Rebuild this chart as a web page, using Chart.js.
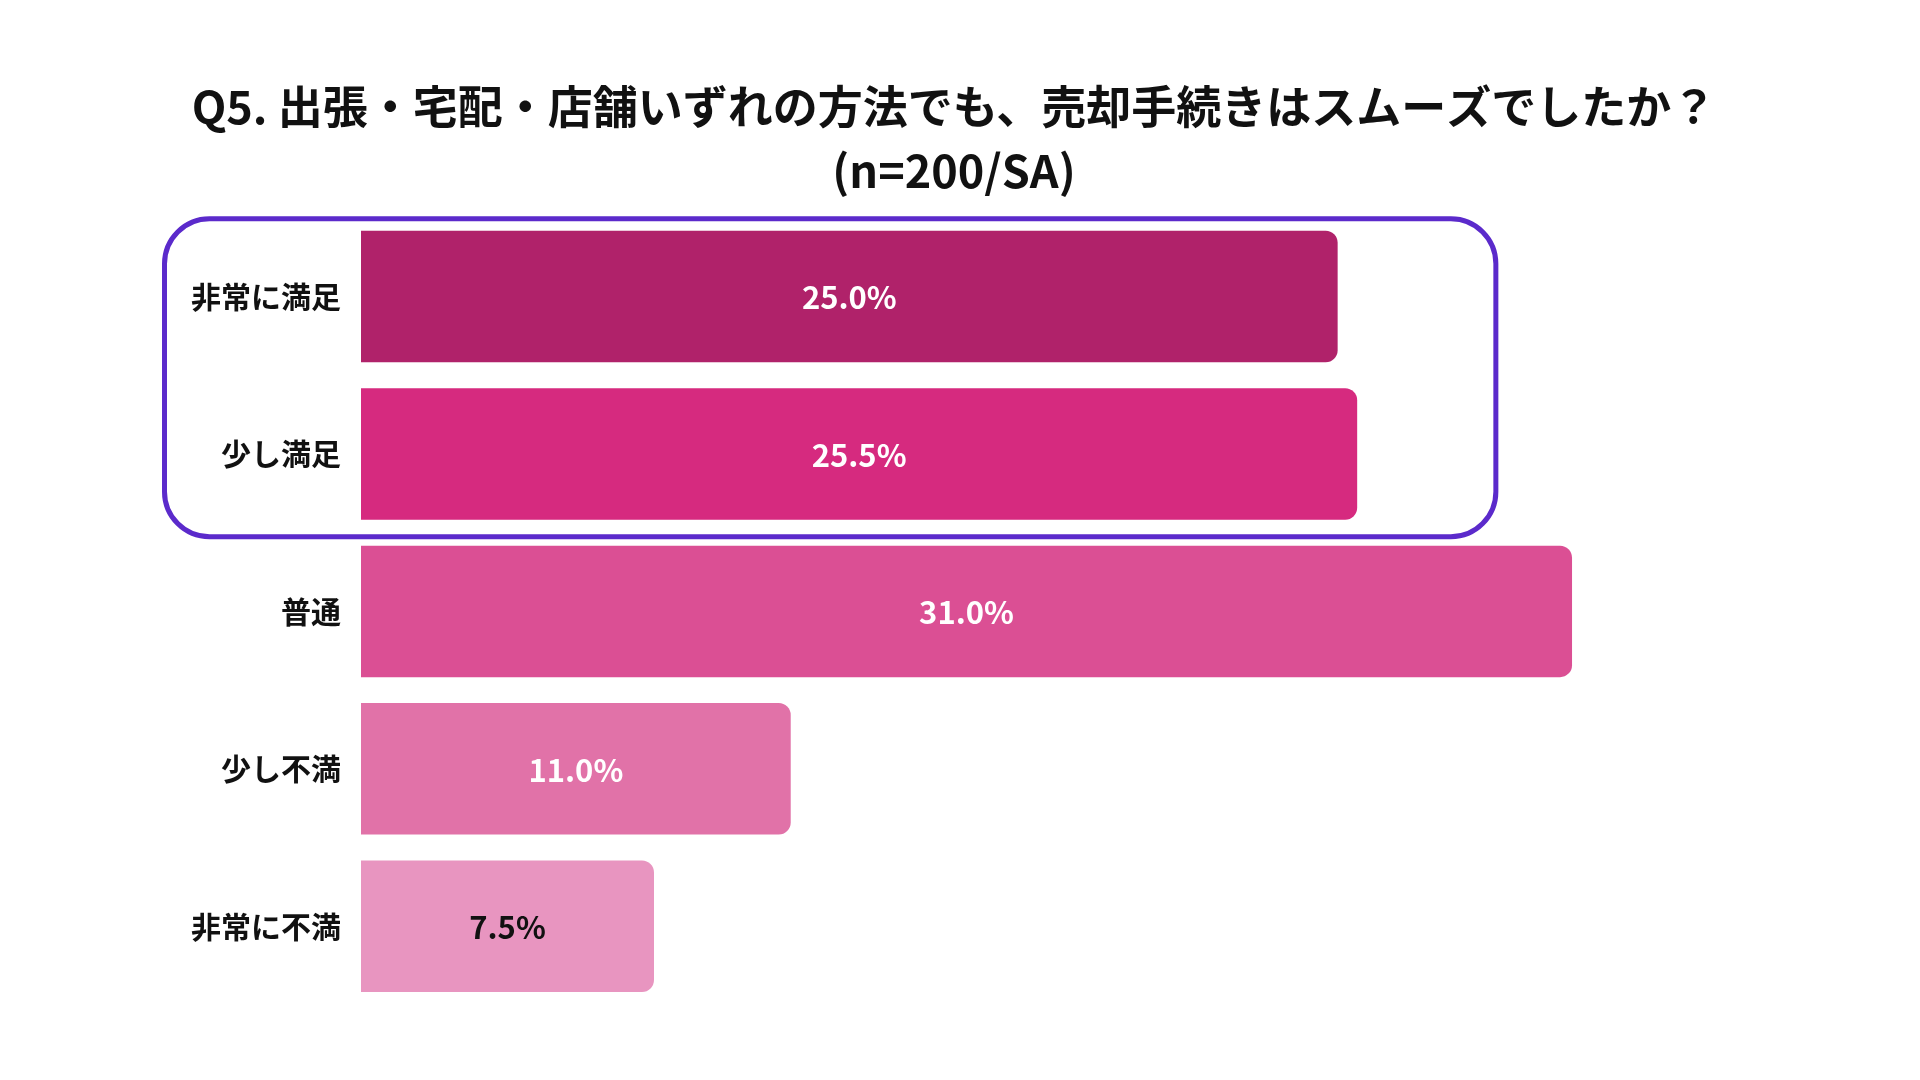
<!DOCTYPE html>
<html lang="ja">
<head>
<meta charset="utf-8">
<title>Q5 売却手続き</title>
<script src="https://cdn.jsdelivr.net/npm/chart.js@4.4.1/dist/chart.umd.min.js"></script>
<style>
  html, body { margin: 0; padding: 0; background: #fff; }
  #chart { display: block; }
</style>
</head>
<body>
<canvas id="chart" width="1920" height="1080"></canvas>
<script>
// data
const categories = ['非常に満足', '少し満足', '普通', '少し不満', '非常に不満'];
const percents = [25.0, 25.5, 31.0, 11.0, 7.5];
const barColors = ['#b0226a', '#d62a7f', '#db4f94', '#e172a8', '#e895c0'];
const labelColors = ['#ffffff', '#ffffff', '#ffffff', '#ffffff', '#111111'];
const titleLines = ['Q5. 出張・宅配・店舗いずれの方法でも、売却手続きはスムーズでしたか？', '(n=200/SA)'];
const highlighted = [0, 1]; // categories inside the purple frame

const FONT = '"Noto Sans CJK JP", "Noto Sans", sans-serif';

// value labels centred in each bar
const valueLabels = {
    id: 'valueLabels',
    afterDatasetsDraw(chart) {
        const ctx = chart.ctx;
        const meta = chart.getDatasetMeta(0);
        ctx.save();
        ctx.font = 'bold 31px ' + FONT;
        ctx.textAlign = 'center';
        ctx.textBaseline = 'middle';
        meta.data.forEach((bar, i) => {
            ctx.fillStyle = labelColors[i];
            ctx.fillText(percents[i].toFixed(1) + '%', (bar.base + bar.x) / 2, bar.y + 1);
        });
        ctx.restore();
    }
};

// rounded frame around the "satisfied" group
const groupFrame = {
    id: 'groupFrame',
    afterDatasetsDraw(chart) {
        const ctx = chart.ctx;
        const meta = chart.getDatasetMeta(0);
        const first = meta.data[highlighted[0]];
        const last = meta.data[highlighted[highlighted.length - 1]];
        const x0 = 164.5;
        const x1 = chart.scales.x.getPixelForValue(29.05);
        const y0 = first.y - first.height / 2 - 12;
        const y1 = last.y + last.height / 2 + 17;
        ctx.save();
        ctx.strokeStyle = '#5b2acb';
        ctx.lineWidth = 5;
        ctx.beginPath();
        ctx.roundRect(x0, y0, x1 - x0, y1 - y0, 45);
        ctx.stroke();
        ctx.restore();
    }
};

new Chart(document.getElementById('chart'), {
    type: 'bar',
    data: {
        labels: categories,
        datasets: [{
            data: percents,
            backgroundColor: barColors,
            borderRadius: 12,
            borderSkipped: 'start',
            barPercentage: 0.835,
            categoryPercentage: 1.0
        }]
    },
    options: {
        indexAxis: 'y',
        responsive: false,
        animation: false,
        devicePixelRatio: 1,
        layout: {
            padding: { top: 0, right: 12, bottom: 75, left: 0 }
        },
        plugins: {
            legend: { display: false },
            tooltip: { enabled: false },
            title: {
                display: true,
                text: titleLines,
                color: '#111111',
                font: { family: FONT, size: 45, weight: 'bold', lineHeight: 1.42 },
                padding: { top: 75, bottom: 15 }
            }
        },
        scales: {
            x: {
                display: false,
                min: 0,
                max: 39.6
            },
            y: {
                afterFit(scale) { scale.width = 361; },
                grid: { display: false, drawTicks: false },
                border: { display: false },
                ticks: {
                    color: '#111111',
                    padding: 20,
                    font: { family: FONT, size: 30, weight: 'bold' }
                }
            }
        }
    },
    plugins: [groupFrame, valueLabels]
});
</script>
</body>
</html>
